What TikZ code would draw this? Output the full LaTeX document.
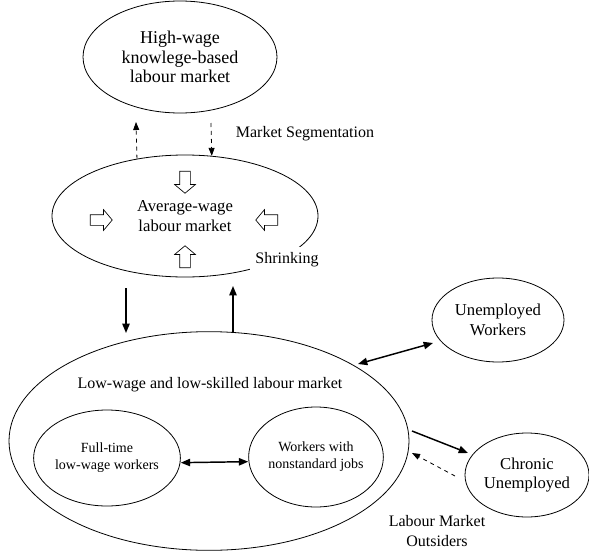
\documentclass[tikz,border=0pt]{standalone}
\usepackage{fontspec}
\setmainfont{Liberation Serif}
\usetikzlibrary{shapes.geometric,shapes.arrows,arrows.meta}

\begin{document}
\begin{tikzpicture}[x=.75pt,y=-.75pt,>={Triangle[length=7pt,width=5.5pt]},
  market/.style={ellipse,draw,line width=.6pt,inner sep=0pt,align=center,font=\fontsize{12.5}{14.5}\selectfont},
  inner/.style={market,font=\fontsize{10.5}{12.6}\selectfont},
  hollow/.style={single arrow,draw,line width=.5pt,inner xsep=0pt,inner ysep=3.75pt,minimum height=16.5pt,
    single arrow head extend=3.75pt,single arrow tip angle=100},
  lbl/.style={inner sep=1pt,align=center,font=\fontsize{12}{14.3}\selectfont}]
\useasboundingbox(0,0)rectangle(589,553);
\coordinate(Ctop)at(180,57);
\coordinate(Cavg)at(185,216);
\coordinate(Clow)at(209,441);
\coordinate(Cftw)at(107,458);
\coordinate(Cnsj)at(316,457);
\coordinate(Cunw)at(498,320);
\coordinate(Cchr)at(527,475);
\coordinate(SegUp)at(136,122);
\coordinate(SegDn)at(211,123);
\coordinate(DnA)at(126,288);
\coordinate(DnB)at(126,333);
\coordinate(UpA)at(233,333);
\coordinate(UpB)at(233,286);
\coordinate(UnwA)at(358,364);
\coordinate(UnwB)at(433,343);
\coordinate(ChrA)at(412,431);
\coordinate(ChrB)at(468,453);
\coordinate(ChrC)at(455,476);
\coordinate(ChrD)at(412,453);
\node[market,minimum width=145.5pt,minimum height=84pt,font=\fontsize{13.5}{14.5}\selectfont](top)at(Ctop){High-wage\\knowlege-based\\labour market};
\node[market,minimum width=199.5pt,minimum height=91.5pt](avg)at(Cavg){Average-wage\\labour market};
\node[market,minimum width=300pt,minimum height=164pt](low)at(Clow){};
\node[inner,minimum width=103.5pt,minimum height=72pt](ftw)at(Cftw){Full-time\\low-wage workers};
\node[inner,minimum width=96pt,minimum height=75pt](nsj)at(Cnsj){Workers with\\nonstandard jobs};
\node[market,minimum width=99pt,minimum height=63pt](unw)at(Cunw){Unemployed\\Workers};
\node[market,minimum width=93pt,minimum height=63pt](chr)at(Cchr){Chronic\\Unemployed};
\node[lbl](lowtxt)at(210,385){Low-wage and low-skilled labour market};
\node[lbl](seg)at(305,134){Market Segmentation};
\node[lbl,fill=white,inner xsep=4pt,inner ysep=4pt](shr)at(287,260){Shrinking};
\node[lbl](out)at(437,531){Labour Market\\Outsiders};
\begin{scope}[every node/.style={hollow}]
\node[rotate=-90](sdn)at(185,180){};
\node[rotate=90](sup)at(185,259){};
\node(srt)at(99,220){};
\node[rotate=180](slf)at(269,220){};
\end{scope}
\begin{scope}[line width=.6pt,dashed,>={Triangle[length=6pt,width=4.5pt]}]
\draw[->](avg.130.8)--(SegUp);
\draw[->](SegDn)--(avg.66.5);
\draw[->](ChrC)--(ChrD);
\end{scope}
\begin{scope}[line width=1.1pt]
\draw[->](DnA)--(DnB);
\draw[->](UpA)--(UpB);
\draw[<->](UnwA)--(UnwB);
\draw[->](ChrA)--(ChrB);
\draw[<->]([yshift=-3.5pt]ftw.east)--([yshift=-3.5pt]nsj.west);
\end{scope}
\end{tikzpicture}
\end{document}
